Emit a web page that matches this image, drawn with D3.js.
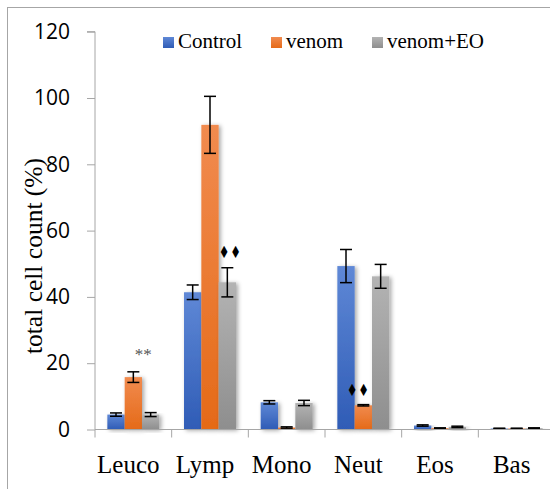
<!DOCTYPE html>
<html>
<head>
<meta charset="utf-8">
<script src="https://cdn.jsdelivr.net/npm/d3@7"></script>
<style>
  html, body { margin: 0; padding: 0; background: #fff; }
  svg { display: block; }
</style>
</head>
<body>
<svg id="chart" width="550" height="489"></svg>
<script>
// Differential leukocyte counts per treatment group
const categories = ["Leuco", "Lymp", "Mono", "Neut", "Eos", "Bas"];
const seriesNames = ["Control", "venom", "venom+EO"];
const controlValues = [4.5, 41.4, 8.2, 49.3, 1.2, 0.3];
const venomValues = [15.8, 91.9, 0.6, 7.3, 0.4, 0.3];
const venomEOValues = [4.5, 44.4, 8.0, 46.2, 0.8, 0.4];
const controlErrors = [0.5, 2.2, 0.5, 5.0, 0.2, 0.1];
const venomErrors = [1.6, 8.6, 0.2, 0.2, 0.1, 0.1];
const venomEOErrors = [0.6, 4.4, 0.8, 3.6, 0.2, 0.1];
const yTicks = [0, 20, 40, 60, 80, 100, 120];
// significance marks: [category, series, text]
const marks = [
  ["Leuco", "venom", "**"],
  ["Lymp", "venom+EO", "\u2666\u2666"],
  ["Neut", "venom", "\u2666\u2666"]
];

const values = [controlValues, venomValues, venomEOValues];
const errors = [controlErrors, venomErrors, venomEOErrors];
const gradients = [
  ["#5f88d6", "#2f5cb6"],
  ["#f18b4f", "#e56a18"],
  ["#b3b3b3", "#8e8e8e"]
];

const svg = d3.select("#chart");
const defs = svg.append("defs");

gradients.forEach((g, i) => {
  const lg = defs.append("linearGradient")
    .attr("id", "grad" + i).attr("x1", 0).attr("y1", 0).attr("x2", 0).attr("y2", 1);
  lg.append("stop").attr("offset", "0%").attr("stop-color", g[0]);
  lg.append("stop").attr("offset", "100%").attr("stop-color", g[1]);
});

const shadow = defs.append("filter").attr("id", "shadow")
  .attr("x", "-30%").attr("y", "-10%").attr("width", "170%").attr("height", "130%");
shadow.append("feDropShadow").attr("dx", 2).attr("dy", 1).attr("stdDeviation", 2)
  .attr("flood-color", "#000").attr("flood-opacity", 0.35);

// outer frame
svg.append("rect").attr("x", 7.5).attr("y", 7.5).attr("width", 560).attr("height", 500)
  .attr("fill", "none").attr("stroke", "#a6a6a6").attr("stroke-width", 1);

const plotLeft = 95, plotTop = 31.7, plotBottom = 429.5;
const x0 = d3.scaleBand().domain(categories)
  .range([plotLeft, plotLeft + 460])
  .paddingInner(0.322).paddingOuter(0.161);
const x1 = d3.scaleBand().domain(seriesNames).range([0, x0.bandwidth()]);
const y = d3.scaleLinear().domain([0, 120]).range([plotBottom, plotTop]);

// bars
const groups = svg.append("g").selectAll("g")
  .data(categories).join("g")
  .attr("transform", c => `translate(${x0(c)},0)`);

groups.selectAll("rect")
  .data((c, ci) => seriesNames.map((s, si) => ({ s, si, v: values[si][ci], e: errors[si][ci] })))
  .join("rect")
  .attr("x", d => x1(d.s))
  .attr("y", d => y(d.v))
  .attr("width", x1.bandwidth())
  .attr("height", d => y(0) - y(d.v))
  .attr("fill", d => `url(#grad${d.si})`)
  .attr("filter", "url(#shadow)");

// error bars
const capHalf = 6;
groups.selectAll("g.err")
  .data((c, ci) => seriesNames.map((s, si) => ({ s, v: values[si][ci], e: errors[si][ci] })))
  .join("g").attr("class", "err")
  .each(function (d) {
    const g = d3.select(this);
    const cx = x1(d.s) + x1.bandwidth() / 2;
    g.append("line").attr("x1", cx).attr("x2", cx)
      .attr("y1", y(d.v + d.e)).attr("y2", y(d.v - d.e));
    g.append("line").attr("x1", cx - capHalf).attr("x2", cx + capHalf)
      .attr("y1", y(d.v + d.e)).attr("y2", y(d.v + d.e));
    g.append("line").attr("x1", cx - capHalf).attr("x2", cx + capHalf)
      .attr("y1", y(d.v - d.e)).attr("y2", y(d.v - d.e));
  })
  .selectAll("line").attr("stroke", "#000").attr("stroke-width", 1.5);

// y axis
const yAxis = d3.axisLeft(y).tickValues(yTicks).tickSize(8).tickPadding(17);
const gy = svg.append("g").attr("transform", `translate(${plotLeft},0)`).call(yAxis);
gy.select(".domain").attr("stroke", "#a6a6a6").attr("d", `M-8,${plotTop}H0V${plotBottom}`);
gy.selectAll(".tick line").attr("stroke", "#a6a6a6");
gy.selectAll(".tick text").attr("font-family", "'Open Sans', sans-serif")
  .attr("font-size", 21).attr("fill", "#000");

// x axis
const xAxis = d3.axisBottom(x0).tickSize(0).tickPadding(0);
const gx = svg.append("g").attr("transform", `translate(0,${plotBottom})`).call(xAxis);
gx.select(".domain").attr("stroke", "#a6a6a6").attr("d", `M${plotLeft},0H550`);
gx.selectAll(".tick text")
  .attr("font-family", "'Liberation Serif', 'Times New Roman', serif")
  .attr("font-size", 25).attr("fill", "#000")
  .attr("dy", 0).attr("y", 43).attr("x", -5);
// category boundary ticks
const step = x0.step();
gx.append("g").selectAll("line")
  .data(categories).join("line")
  .attr("x1", c => x0(c) - x0.paddingInner() * step / 2)
  .attr("x2", c => x0(c) - x0.paddingInner() * step / 2)
  .attr("y1", 0).attr("y2", 8)
  .attr("stroke", "#a6a6a6");

// y axis title
svg.append("text")
  .attr("transform", `translate(42,256) rotate(-90)`)
  .attr("text-anchor", "middle")
  .attr("font-family", "'Liberation Serif', 'Times New Roman', serif")
  .attr("font-size", 25.5).attr("fill", "#000")
  .text("total cell count (%)");

// significance marks, nudged off their bars
const markNudge = [[10, -2], [3, 0], [-5, 1]];
marks.forEach(([c, s, t], i) => {
  const ci = categories.indexOf(c), si = seriesNames.indexOf(s);
  const top = values[si][ci] + errors[si][ci];
  const isStar = t === "**";
  const cx = x0(c) + x1(s) + x1.bandwidth() / 2 + markNudge[i][0];
  const cy = y(top) - 10 + markNudge[i][1];
  svg.append("text")
    .attr("transform", `translate(${cx},${cy}) scale(${isStar ? "1,1" : "0.95,1.35"})`)
    .attr("text-anchor", "middle")
    .attr("font-family", isStar ? "'Liberation Serif', serif" : "'DejaVu Sans', sans-serif")
    .attr("font-size", isStar ? 17 : 12.5)
    .attr("letter-spacing", isStar ? 0 : 1)
    .attr("fill", isStar ? "#555" : "#000")
    .text(t);
});

// legend
const legendX = [163, 271, 372];
const legend = svg.append("g").selectAll("g")
  .data(seriesNames).join("g")
  .attr("transform", (d, i) => `translate(${legendX[i]},37)`);
legend.append("rect").attr("width", 11).attr("height", 11)
  .attr("fill", (d, i) => `url(#grad${i})`);
legend.append("text").attr("x", 15).attr("y", 10.5)
  .attr("font-family", "'Liberation Serif', 'Times New Roman', serif")
  .attr("font-size", 21).attr("fill", "#000")
  .text(d => d);
</script>
</body>
</html>
